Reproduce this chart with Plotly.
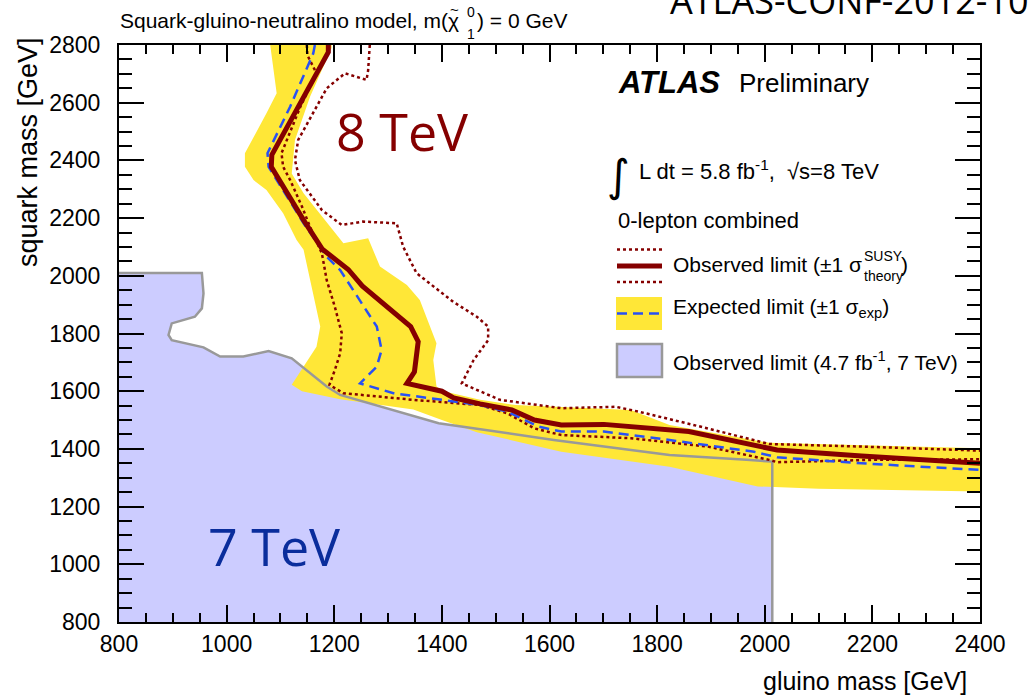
import plotly.graph_objects as go

# ---------------- data (GeV) ----------------
# Observed limit (8 TeV, 5.8 fb-1)
obs_g = [1189, 1189, 1084, 1083, 1143, 1178, 1226, 1252, 1342, 1356, 1349, 1335, 1400, 1422, 1471, 1530, 1572, 1622, 1701, 1859, 2023, 2180, 2400]
obs_s = [2800, 2775, 2419, 2378, 2193, 2092, 2022, 1965, 1824, 1772, 1667, 1627, 1600, 1577, 1556, 1535, 1500, 1483, 1485, 1460, 1396, 1375, 1350]

# Observed +1 sigma theory (outer dotted)
obs_up_g = [1266, 1263, 1260, 1220, 1186, 1133, 1127, 1136, 1177, 1214, 1253, 1316, 1328, 1353, 1421, 1465, 1486, 1486, 1459, 1437, 1508, 1622, 1723, 1766, 1894, 2008, 2180, 2400]
obs_up_s = [2800, 2713, 2679, 2702, 2650, 2471, 2401, 2332, 2228, 2176, 2188, 2182, 2101, 2009, 1910, 1858, 1824, 1777, 1708, 1627, 1570, 1541, 1546, 1529, 1471, 1417, 1408, 1394]

# Observed -1 sigma theory (inner dotted)
obs_dn_g = [1149, 1150, 1167, 1137, 1102, 1105, 1118, 1140, 1155, 1177, 1186, 1201, 1214, 1211, 1201, 1191, 1217, 1347, 1471, 1522, 1572, 1622, 1751, 1894, 2008, 2023, 2200, 2400]
obs_dn_s = [2800, 2765, 2702, 2586, 2425, 2378, 2332, 2240, 2170, 2078, 1985, 1893, 1801, 1731, 1673, 1622, 1593, 1570, 1552, 1523, 1471, 1448, 1437, 1408, 1362, 1354, 1362, 1364]

# Expected limit (dashed)
exp_g = [1164, 1161, 1118, 1076, 1078, 1143, 1186, 1211, 1279, 1288, 1279, 1248, 1310, 1471, 1522, 1580, 1622, 1701, 1823, 1980, 2023, 2180, 2400]
exp_s = [2800, 2771, 2586, 2425, 2378, 2182, 2066, 2020, 1824, 1743, 1685, 1627, 1593, 1552, 1529, 1477, 1460, 1460, 1431, 1390, 1371, 1350, 1327]

# Expected +-1 sigma band (closed outline: lower/left edge, then upper/right edge)
band_g = [1081, 1093, 1074, 1050, 1034, 1034, 1050, 1074, 1105, 1130, 1143, 1174, 1167, 1121, 1140, 1211, 1347, 1400, 1465, 1622, 1823, 1987, 2100, 2400,
          2400, 2008, 1823, 1751, 1537, 1471, 1403, 1390, 1384, 1390, 1359, 1335, 1285, 1263, 1217, 1143, 1121, 1127, 1155, 1195, 1195]
band_s = [2800, 2633, 2563, 2482, 2425, 2378, 2332, 2297, 2217, 2124, 2090, 1824, 1754, 1622, 1600, 1572, 1537, 1500, 1458, 1390, 1338, 1270, 1262, 1252,
          1402, 1421, 1483, 1535, 1552, 1570, 1600, 1616, 1708, 1766, 1916, 1968, 2032, 2130, 2113, 2286, 2355, 2471, 2621, 2790, 2800]

# Observed limit at 7 TeV (4.7 fb-1)
lim7_g = [800, 954, 957, 954, 941, 898, 892, 898, 957, 988, 1031, 1078, 1121, 1186, 1211, 1322, 1394, 1608, 1823, 1966, 2014, 2014]
lim7_s = [2010, 2010, 1939, 1887, 1858, 1835, 1795, 1777, 1752, 1720, 1720, 1739, 1714, 1616, 1587, 1529, 1489, 1431, 1379, 1362, 1356, 800]

x_ticks = [800, 1000, 1200, 1400, 1600, 1800, 2000, 2200, 2400]
y_ticks = [800, 1000, 1200, 1400, 1600, 1800, 2000, 2200, 2400, 2600, 2800]

# ---------------- styling ----------------
RED = "#850000"
BLUE = "#2850f5"
YEL = "#ffe737"
LAV = "#ccccff"
GRAY = "#999999"
SANS = "Liberation Sans, Arial, sans-serif"
BIG = "Open Sans, DejaVu Sans, sans-serif"

W, H = 1028, 698
L, R, T, B = 119, 980, 45, 622


def fx(p):
    return (p - L) / (R - L)


def fy(p):
    return (B - p) / (B - T)


fig = go.Figure()
fig.add_trace(go.Scatter(x=lim7_g + [800], y=lim7_s + [800], mode="lines", fill="toself",
                         fillcolor=LAV, line=dict(width=0), hoverinfo="skip", showlegend=False))
fig.add_trace(go.Scatter(x=band_g, y=band_s, mode="lines", fill="toself",
                         fillcolor=YEL, line=dict(width=0), hoverinfo="skip", showlegend=False))
fig.add_trace(go.Scatter(x=lim7_g, y=lim7_s, mode="lines",
                         line=dict(color=GRAY, width=2.5), showlegend=False))
fig.add_trace(go.Scatter(x=obs_up_g, y=obs_up_s, mode="lines",
                         line=dict(color=RED, width=2.5, dash="dot"), showlegend=False))
fig.add_trace(go.Scatter(x=obs_dn_g, y=obs_dn_s, mode="lines",
                         line=dict(color=RED, width=2.5, dash="dot"), showlegend=False))
fig.add_trace(go.Scatter(x=exp_g, y=exp_s, mode="lines",
                         line=dict(color=BLUE, width=2.5, dash="10px,6px"), showlegend=False))
fig.add_trace(go.Scatter(x=obs_g, y=obs_s, mode="lines",
                         line=dict(color=RED, width=5), showlegend=False))

axis_common = dict(showline=True, linewidth=2, linecolor="black", mirror="ticks",
                   ticks="inside", tickwidth=2, tickcolor="black", showgrid=False,
                   zeroline=False, tickfont=dict(family=SANS, size=23, color="black"))

fig.update_layout(
    width=W, height=H, autosize=False,
    margin=dict(l=L, r=W - R, t=T, b=H - B, pad=0),
    paper_bgcolor="white", plot_bgcolor="white",
    xaxis=dict(range=[800, 2400], tickvals=x_ticks, ticklen=17, ticklabelstandoff=0,
               minor=dict(dtick=50, ticklen=9, ticks="inside", tickwidth=2, tickcolor="black"),
               **axis_common),
    yaxis=dict(range=[800, 2800], tickvals=y_ticks, ticklen=25, ticklabelstandoff=12,
               minor=dict(dtick=50, ticklen=13, ticks="inside", tickwidth=2, tickcolor="black"),
               **axis_common),
)

anns = []


def ann(text, x, y, size, family=SANS, color="black", xanchor="left", yanchor="middle", **kw):
    anns.append(dict(text=text, x=fx(x), y=fy(y), xref="paper", yref="paper",
                     xanchor=xanchor, yanchor=yanchor, showarrow=False,
                     font=dict(family=family, size=size, color=color), **kw))


# title with stacked super/subscript and tilde on the neutralino symbol
ann("Squark-gluino-neutralino model, m(χ", 118, 21, 21)
ann("~", 454, 9, 15, xanchor="center")
ann("0", 465, 12, 14)
ann("1", 465, 34, 14)
ann(") = 0 GeV", 475, 21, 21)

ann("ATLAS-CONF-2012-109", 668, 1, 36, family=BIG)
ann("<b><i>ATLAS</i></b>", 616, 82, 31)
ann("Preliminary", 737, 83, 26)
ann("∫", 618, 176, 44, family="DejaVu Sans", xanchor="center")
ann("L dt = 5.8 fb<sup>-1</sup>,  √s=8 TeV", 637, 170, 22)
ann("0-lepton combined", 616, 220, 22)
ann("Observed limit (±1 σ", 671, 264, 21)
ann("SUSY", 862, 256, 14)
ann("theory", 862, 276, 14)
ann(")", 899, 264, 21)
ann("Expected limit (±1 σ<sub>exp</sub>)", 671, 308, 21)
ann("Observed limit (4.7 fb<sup>-1</sup>, 7 TeV)", 671, 361, 21)
ann("8 TeV", 402, 130, 52, family=BIG, color=RED, xanchor="center")
ann("7 TeV", 274, 545, 52, family=BIG, color="#0a2d9c", xanchor="center")
ann("gluino mass [GeV]", 969, 681, 25, xanchor="right")
ann("squark mass [GeV]", 28, 35, 27, xanchor="center", yanchor="top", textangle=-90)
fig.update_layout(annotations=anns)

shapes = []


def hline(x0, x1, y, color, width, dash="solid"):
    shapes.append(dict(type="line", xref="paper", yref="paper", x0=fx(x0), x1=fx(x1),
                       y0=fy(y), y1=fy(y), line=dict(color=color, width=width, dash=dash)))


hline(617, 662, 249.5, RED, 2.5, "dot")
hline(617, 662, 266, RED, 5)
hline(617, 662, 282, RED, 2.5, "dot")
shapes.append(dict(type="rect", xref="paper", yref="paper", x0=fx(616), x1=fx(662),
                   y0=fy(330), y1=fy(297), fillcolor=YEL, line=dict(width=0)))
hline(617, 660, 313.5, BLUE, 2.5, "10px,6px")
shapes.append(dict(type="rect", xref="paper", yref="paper", x0=fx(617), x1=fx(662),
                   y0=fy(377), y1=fy(344), fillcolor=LAV, line=dict(color=GRAY, width=2.5)))
fig.update_layout(shapes=shapes)

fig.write_html("out.html")
